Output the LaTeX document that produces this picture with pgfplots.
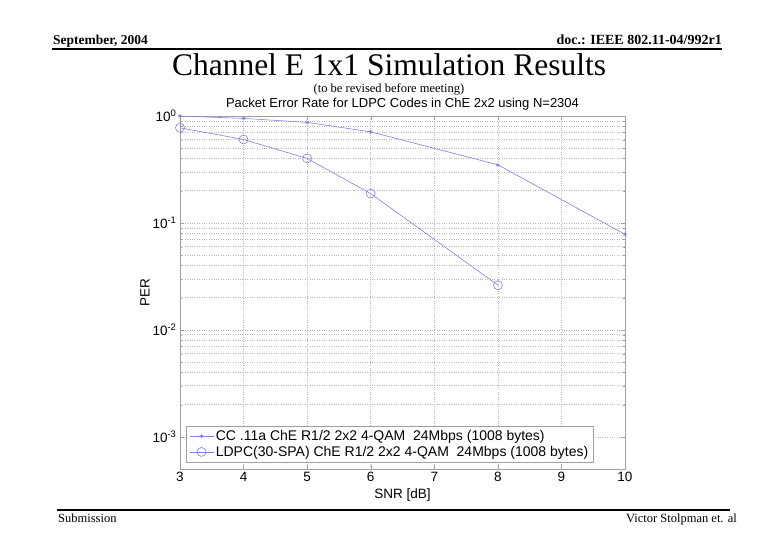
\documentclass[border=0pt]{standalone}
\usepackage{fontspec}
\setmainfont{Liberation Serif}
\newfontfamily\arial{Liberation Sans}
\usepackage{pgfplots}
\pgfplotsset{compat=1.18}
\definecolor{matblue}{RGB}{130,130,225}
\definecolor{gridgray}{RGB}{185,185,185}
\definecolor{boxgray}{RGB}{160,160,160}

\begin{document}
\begin{tikzpicture}
% slide frame, 1pt = 1px of the reference
\fill[white] (0pt,0pt) rectangle (780pt,-540pt);
\node[anchor=base west, inner sep=0pt, font=\bfseries\fontsize{13.5}{15}\selectfont] at (53pt,-45pt) {September, 2004};
\node[anchor=base east, inner sep=0pt, font=\bfseries\fontsize{14}{15}\selectfont] at (722pt,-45pt) {doc.: IEEE 802.11-04/992r1};
\fill[black] (52pt,-48.5pt) rectangle (722pt,-50.5pt);
\node[anchor=base, inner sep=0pt, font=\fontsize{31.5}{34}\selectfont] at (389pt,-76pt) {Channel E 1x1 Simulation Results};
\node[anchor=base, inner sep=0pt, font=\fontsize{12.5}{14}\selectfont] at (389pt,-93pt) {(to be revised before meeting)};
\fill[black] (57pt,-509pt) rectangle (730pt,-511pt);
\node[anchor=base west, inner sep=0pt, font=\fontsize{12.5}{14}\selectfont] at (58pt,-522pt) {Submission};
\node[anchor=base east, inner sep=0pt, font=\fontsize{12.5}{14}\selectfont] at (737pt,-522pt) {Victor Stolpman et. al};

\begin{axis}[
  at={(180pt,-469pt)}, anchor=south west,
  scale only axis, width=445pt, height=353pt,
  ymode=log,
  xmin=3, xmax=10, ymin=5e-4, ymax=1,
  xtick={3,4,5,6,7,8,9,10},
  ytick={0.001,0.01,0.1,1},
  yticklabels={10\textsuperscript{-3},10\textsuperscript{-2},10\textsuperscript{-1},10\textsuperscript{0}},
  /pgf/number format/assume math mode=true,
  ticklabel style={font=\arial\fontsize{13.5}{15}\selectfont},
  tick align=inside,
  major tick length=4pt, minor tick length=2pt,
  tick style={boxgray},
  axis line style={boxgray},
  grid=both,
  major grid style={gridgray, dotted, line width=0.6pt},
  minor grid style={gridgray, dotted, line width=0.6pt},
  title={Packet Error Rate for LDPC Codes in ChE 2x2 using N=2304},
  title style={font=\arial\fontsize{13}{15}\selectfont, yshift=-4pt},
  xlabel={SNR [dB]},
  ylabel={PER},
  label style={font=\arial\fontsize{13.5}{15}\selectfont},
  ylabel style={yshift=-4pt},
  legend style={at={(0.0135,0.02)}, anchor=south west, draw=boxgray,
    font=\arial\fontsize{14}{16}\selectfont, row sep=0pt,
    inner xsep=3pt, inner ysep=2pt},
  legend image code/.code={
    \draw[mark repeat=2, mark phase=2, #1] plot coordinates {(0pt,0pt) (12pt,0pt) (24pt,0pt)};
  },
  legend cell align=left,
]
\addplot[matblue, line width=0.6pt, mark=asterisk, mark size=2pt] coordinates {
  (3,1.0) (4,0.95) (5,0.872) (6,0.711) (8,0.350) (10,0.0782)
};
\addlegendentry{CC .11a ChE R1/2 2x2 4-QAM\ \ 24Mbps (1008 bytes)}
\addplot[matblue, line width=0.6pt, mark=o, mark size=4.5pt] coordinates {
  (3,0.776) (4,0.603) (5,0.401) (6,0.188) (8,0.0262)
};
\addlegendentry{LDPC(30-SPA) ChE R1/2 2x2 4-QAM\ \ 24Mbps (1008 bytes)}
\end{axis}
\end{tikzpicture}
\end{document}
